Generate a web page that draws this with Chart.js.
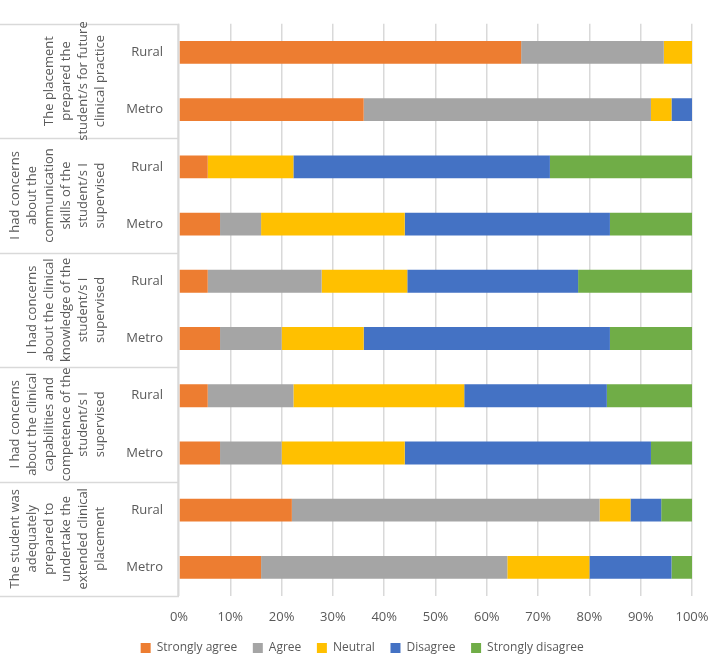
<!DOCTYPE html>
<html>
<head>
<meta charset="utf-8">
<script src="https://cdn.jsdelivr.net/npm/chart.js@4"></script>
<style>
  html, body { margin: 0; padding: 0; background: #fff; }
  #wrap { width: 708px; height: 655px; }
</style>
</head>
<body>
<div id="wrap"><canvas id="chart"></canvas></div>
<script>
// rows top to bottom
const categories = ['Rural', 'Metro', 'Rural', 'Metro', 'Rural', 'Metro', 'Rural', 'Metro', 'Rural', 'Metro'];

// outer (question) labels, each covers two rows
const questions = [
    ['The placement', 'prepared the', 'student/s for future', 'clinical practice'],
    ['I had concerns', 'about the', 'communication', 'skills of the', 'student/s I', 'supervised'],
    ['I had concerns', 'about the clinical', 'knowledge of the', 'student/s I', 'supervised'],
    ['I had concerns', 'about the clinical', 'capabilities and', 'competence of the', 'student/s I', 'supervised'],
    ['The student was', 'adequately', 'prepared to', 'undertake the', 'extended clinical', 'placement']
];

const stronglyAgree    = [66.7, 36, 5.6,  8, 5.6,  8, 5.6,  8, 22, 16];
const agree            = [27.8, 56, 0,    8, 22.2, 12, 16.7, 12, 60, 48];
const neutral          = [5.6,  4, 16.7, 28, 16.7, 16, 33.3, 24, 6, 16];
const disagree         = [0,    4, 50,   40, 33.3, 48, 27.8, 48, 6, 16];
const stronglyDisagree = [0,    0, 27.8, 16, 22.2, 16, 16.7, 8,  6, 4];

const xTicks = [0, 10, 20, 30, 40, 50, 60, 70, 80, 90, 100];

const textColor = '#595959';
const lineColor = '#d9d9d9';
const fontFamily = '"Open Sans", "Liberation Sans", sans-serif';

// draws the question boxes and rotated text left of the row labels
const questionLabels = {
    id: 'questionLabels',
    afterLayout(chart) {
        // legend sits a little right of centre in the original
        chart.legend.left += 16;
        chart.legend.right += 16;
    },
    afterDraw(chart) {
        const ctx = chart.ctx;
        const y = chart.scales.y;
        const area = chart.chartArea;
        const step = y.getPixelForValue(1) - y.getPixelForValue(0);

        ctx.save();
        ctx.strokeStyle = lineColor;
        ctx.lineWidth = 1.5;
        ctx.beginPath();
        for (let g = 0; g <= questions.length; g++) {
            const py = Math.round(y.getPixelForValue(g * 2) - step / 2) + 0.5;
            ctx.moveTo(0, py);
            ctx.lineTo(area.left, py);
        }
        ctx.moveTo(area.left - 1, area.top);
        ctx.lineTo(area.left - 1, area.bottom);
        ctx.stroke();

        ctx.fillStyle = textColor;
        ctx.font = '13px ' + fontFamily;
        ctx.textAlign = 'center';
        ctx.textBaseline = 'middle';
        const lastX = 100, lineH = 17;
        questions.forEach((lines, g) => {
            const cy = (y.getPixelForValue(g * 2) + y.getPixelForValue(g * 2 + 1)) / 2;
            lines.forEach((txt, i) => {
                const cx = lastX - (lines.length - 1 - i) * lineH;
                ctx.save();
                ctx.translate(cx, cy);
                ctx.rotate(-Math.PI / 2);
                ctx.fillText(txt, 0, 0);
                ctx.restore();
            });
        });
        ctx.restore();
    }
};

const ctx = document.getElementById('chart').getContext('2d');
new Chart(ctx, {
    type: 'bar',
    data: {
        labels: categories,
        datasets: [
            { label: 'Strongly agree', data: stronglyAgree, backgroundColor: '#ED7D31' },
            { label: 'Agree', data: agree, backgroundColor: '#A5A5A5' },
            { label: 'Neutral', data: neutral, backgroundColor: '#FFC000' },
            { label: 'Disagree', data: disagree, backgroundColor: '#4472C4' },
            { label: 'Strongly disagree', data: stronglyDisagree, backgroundColor: '#70AD47' }
        ]
    },
    options: {
        indexAxis: 'y',
        responsive: true,
        maintainAspectRatio: false,
        animation: false,
        datasets: {
            bar: {
                categoryPercentage: 1,
                barPercentage: 0.4,
                borderWidth: 0
            }
        },
        layout: {
            padding: { top: 0, left: 0, right: 0, bottom: -9 }
        },
        plugins: {
            legend: {
                position: 'bottom',
                labels: {
                    boxWidth: 10,
                    boxHeight: 10,
                    padding: 0,
                    color: textColor,
                    font: { size: 12, family: fontFamily },
                    generateLabels(chart) {
                        // extra trailing spaces give the wider gaps between items
                        return Chart.defaults.plugins.legend.labels.generateLabels(chart)
                            .map(l => ({ ...l, text: l.text + '     ' }));
                    }
                }
            },
            tooltip: { enabled: false }
        },
        scales: {
            x: {
                stacked: true,
                min: 0,
                max: 100,
                afterBuildTicks(scale) {
                    scale.ticks = xTicks.map(v => ({ value: v }));
                },
                afterFit(scale) {
                    scale.height = 46;
                    scale.paddingLeft = 0;
                    scale.paddingRight = 16;
                },
                ticks: {
                    color: textColor,
                    padding: 13,
                    font: { size: 13, family: fontFamily },
                    callback: v => v + '%'
                },
                grid: {
                    color: lineColor,
                    lineWidth: 1.5,
                    drawTicks: false
                },
                border: { display: false }
            },
            y: {
                stacked: true,
                afterFit(scale) {
                    scale.width = 179;
                },
                ticks: {
                    color: textColor,
                    padding: 16,
                    font: { size: 13, family: fontFamily }
                },
                grid: { display: false, drawTicks: false },
                border: { display: false }
            }
        }
    },
    plugins: [questionLabels]
});
</script>
</body>
</html>
